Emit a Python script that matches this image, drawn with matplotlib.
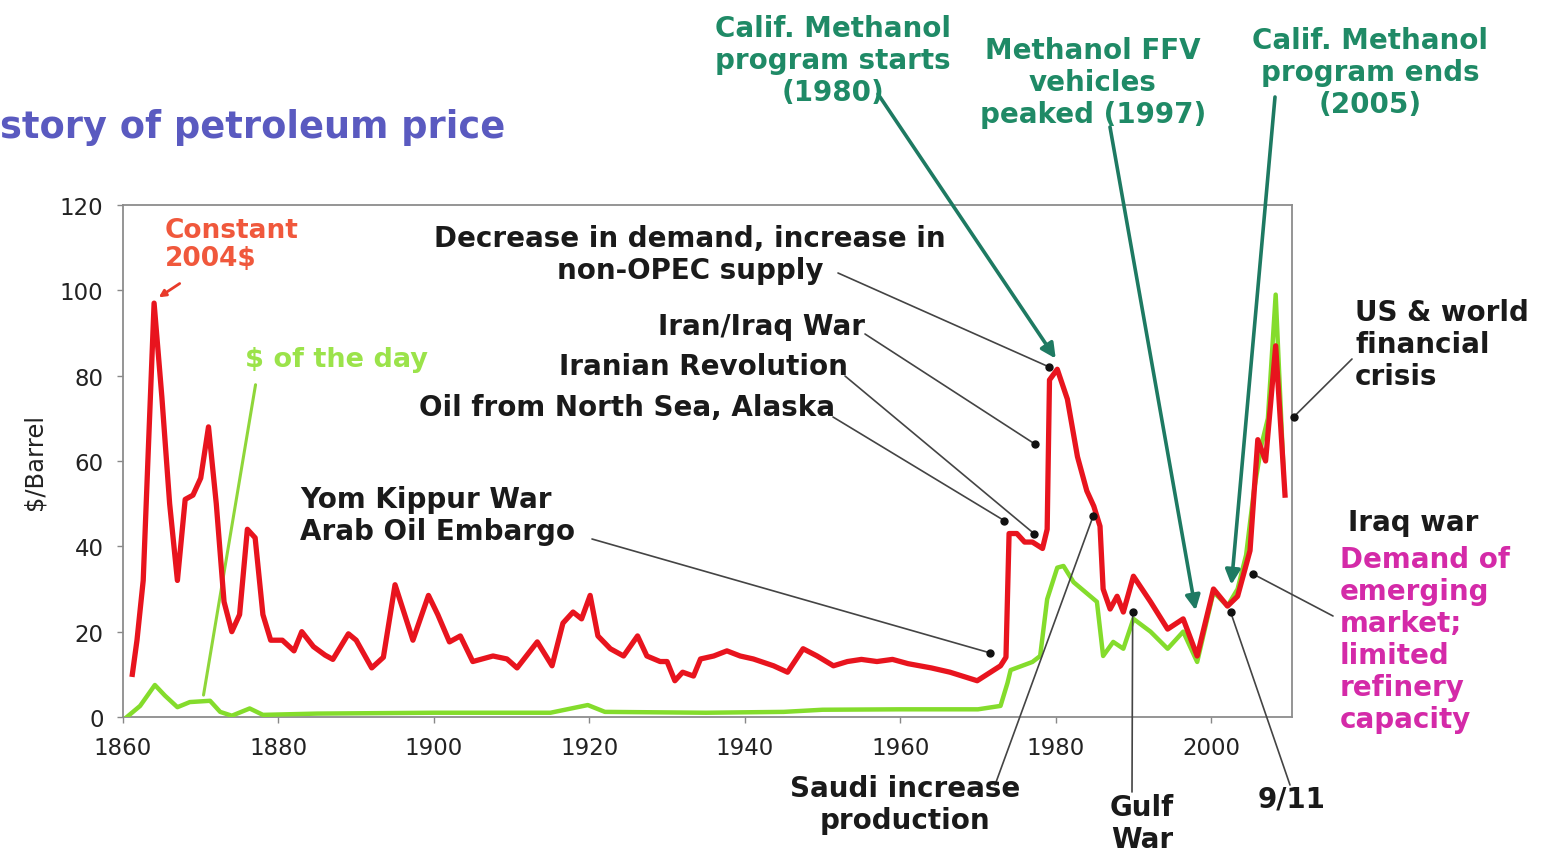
"""
History of petroleum price - annotated oil price chart
"""

import numpy as np
import matplotlib.pyplot as plt
from matplotlib import rcParams

rcParams['font.family'] = ['DejaVu Sans']

W, H = 1542, 854

# Constant 2004$ series (red)
red_years = [1861.2, 1861.8, 1862.6, 1863.2, 1864.0, 1865.0, 1866.0, 1867.0, 1868.0, 1869.0,
             1870.0, 1871.0, 1872.0, 1873.0, 1874.0, 1875.0, 1876.0, 1877.0, 1878.0, 1879.0,
             1880.5, 1882.0, 1883.0, 1884.5, 1886.0, 1887.0, 1889.0, 1890.0, 1892.0, 1893.5,
             1895.0, 1897.3, 1899.3, 1900.5, 1902.0, 1903.4, 1905.0, 1907.6, 1909.4, 1910.7,
             1913.3, 1915.2, 1916.6, 1917.9, 1919.0, 1920.1, 1921.1, 1922.7, 1924.4, 1926.2,
             1927.4, 1929.1, 1930.0, 1931.0, 1932.0, 1933.4, 1934.3, 1936.0, 1937.7, 1939.4,
             1941.1, 1943.7, 1945.5, 1947.5, 1949.3, 1951.4, 1953.2, 1955.0, 1957.0, 1959.0,
             1961.0, 1964.0, 1966.4, 1969.9, 1972.9, 1973.6, 1974.0, 1975.0, 1976.0, 1977.0,
             1978.3, 1978.9, 1979.2, 1980.2, 1981.5, 1982.8, 1984.0, 1984.9, 1985.7, 1986.1,
             1987.0, 1987.9, 1988.7, 1990.0, 1992.2, 1994.4, 1996.4, 1998.2, 2000.3, 2002.1,
             2003.4, 2005.0, 2006.0, 2007.0, 2008.3, 2009.5]
red_vals = [10, 18, 32, 60, 97, 75, 50, 32, 51, 52,
            56, 68, 50, 27, 20, 24, 44, 42, 24, 18,
            18, 15.5, 20, 16.5, 14.5, 13.5, 19.5, 18, 11.5, 14,
            31, 18, 28.5, 24, 17.6, 19, 13, 14.3, 13.6, 11.5,
            17.6, 12, 22, 24.6, 23, 28.5, 19, 16, 14.3, 19,
            14.3, 13, 13, 8.5, 10.5, 9.6, 13.6, 14.3, 15.5, 14.3,
            13.6, 12, 10.5, 16, 14.3, 12, 13, 13.5, 13, 13.5,
            12.5, 11.5, 10.5, 8.5, 12, 14, 43, 43, 41, 41,
            39.5, 44, 79, 81.5, 74.5, 61, 53, 49.4, 44.7, 30,
            25.3, 28.3, 24.6, 33, 27, 20.6, 23, 14.3, 30, 26,
            28.3, 39, 65, 60, 87, 52]

# $ of the day series (green)
green_years = [1860.5, 1862.2, 1864.1, 1865.4, 1867.0, 1868.6, 1871.2, 1872.5, 1874.0, 1876.3,
               1878.0, 1885.0, 1900.0, 1915.0, 1919.8, 1922.0, 1935.0, 1945.0, 1950.0, 1960.0,
               1970.0, 1972.9, 1973.8, 1974.2, 1977.0, 1978.0, 1978.9, 1980.2, 1981.0, 1982.3,
               1985.3, 1986.1, 1987.4, 1988.7, 1990.0, 1992.2, 1994.4, 1996.4, 1998.2, 2000.3,
               2002.1, 2003.4, 2004.5, 2005.5, 2006.5, 2007.3, 2008.3, 2009.3]
green_vals = [0, 2.6, 7.5, 5, 2.3, 3.5, 3.8, 1.2, 0.3, 2,
              0.5, 0.8, 1, 1, 2.8, 1.2, 1, 1.2, 1.7, 1.8,
              1.8, 2.6, 8, 11, 12.9, 14.3, 27.6, 35, 35.4, 31.6,
              27, 14.3, 17.6, 16, 23, 20, 16, 20, 12.9, 29.3,
              26, 30, 38, 53, 64, 70, 99, 58]

x_ticks = [1860, 1880, 1900, 1920, 1940, 1960, 1980, 2000]
y_ticks = [0, 20, 40, 60, 80, 100, 120]

# event annotations: (text, line start px, target year, target value)
events = [
    ("Decrease in demand, increase in\nnon-OPEC supply", (838, 274), 1979.2, 82.0),
    ("Iran/Iraq War", (865, 335), 1977.3, 64.0),
    ("Iranian Revolution", (845, 377), 1977.2, 43.0),
    ("Oil from North Sea, Alaska", (833, 418), 1973.4, 46.0),
    ("Yom Kippur War\nArab Oil Embargo", (592, 540), 1971.6, 15.0),
    ("Saudi increase\nproduction", (995, 786), 1984.8, 47.0),
    ("Gulf\nWar", (1132, 793), 1989.9, 24.6),
    ("9/11", (1290, 786), 2002.5, 24.6),
    ("US & world\nfinancial\ncrisis", (1352, 360), 2010.6, 70.3),
    ("Iraq war", (1333, 617), 2005.4, 33.5),
]

# methanol program arrows: start px, target (year, value)
methanol = [
    ((878, 95), 1980.0, 84.0),
    ((1110, 128), 1998.0, 25.0),
    ((1275, 98), 2002.6, 31.0),
]


def fx(x):
    return x / W


def fy(y):
    return 1 - y / H


fig = plt.figure(figsize=(W / 100, H / 100), dpi=100)
ax = fig.add_axes([fx(123), fy(718), (1292 - 123) / W, (718 - 206) / H])

ax.plot(green_years, green_vals, color='#84dc2c', lw=3.2, solid_joinstyle='round', zorder=3)
ax.plot(red_years, red_vals, color='#e8141e', lw=3.8, solid_joinstyle='round', zorder=4)

ax.set_xlim(1860, 2010.4)
ax.set_ylim(0, 120)
ax.set_xticks(x_ticks)
ax.set_yticks(y_ticks)
ax.tick_params(labelsize=16.5, colors='#222222', length=4, width=1, pad=10)
ax.tick_params(axis='both', color='#888888')
for s in ax.spines.values():
    s.set_color('#8c8c8c')
    s.set_linewidth(1.3)
ax.set_ylabel("$/Barrel", fontsize=17.5, color='#222222', labelpad=10)

# title fragment
fig.text(fx(0), fy(127), "story of petroleum price", fontsize=26.5, fontweight='bold',
         color='#5a5ac0', ha='left', va='center')

# series labels
fig.text(fx(165), fy(245), "Constant\n2004$", fontsize=19, fontweight='bold',
         color='#f0583c', ha='left', va='center', linespacing=1.15)
ax.annotate("", xy=(1864.3, 98), xycoords='data', xytext=(fx(182), fy(283)),
            textcoords='figure fraction',
            arrowprops=dict(arrowstyle='-|>', color='#e83a2a', lw=2, mutation_scale=10))
fig.text(fx(245), fy(360), "$ of the day", fontsize=19.5, fontweight='bold',
         color='#9be34a', ha='left', va='center')
ax.annotate("", xy=(1870.3, 4.5), xycoords='data', xytext=(fx(256), fy(383)),
            textcoords='figure fraction',
            arrowprops=dict(arrowstyle='-', color='#8fd63a', lw=2.2))

# event labels: x, y (px), alignment
label_pos = {
    "Decrease in demand, increase in\nnon-OPEC supply": (690, 255, 'center'),
    "Iran/Iraq War": (865, 327, 'right'),
    "Iranian Revolution": (848, 367, 'right'),
    "Oil from North Sea, Alaska": (835, 408, 'right'),
    "Yom Kippur War\nArab Oil Embargo": (300, 516, 'left'),
    "Saudi increase\nproduction": (905, 805, 'center'),
    "Gulf\nWar": (1142, 824, 'center'),
    "9/11": (1292, 800, 'center'),
    "US & world\nfinancial\ncrisis": (1355, 345, 'left'),
    "Iraq war": (1348, 523, 'left'),
}
for txt, (sx, sy), yr, val in events:
    lx, ly, ha = label_pos[txt]
    fig.text(fx(lx), fy(ly), txt, fontsize=20, fontweight='bold', color='#1a1a1a',
             ha=ha, va='center', linespacing=1.18)
    ax.annotate("", xy=(yr, val), xycoords='data', xytext=(fx(sx), fy(sy)),
                textcoords='figure fraction', annotation_clip=False,
                arrowprops=dict(arrowstyle='-', color='#444444', lw=1.2,
                                shrinkA=0, shrinkB=0))
    ax.plot(yr, val, 'o', color='#111111', ms=5, zorder=6, clip_on=False)

fig.text(fx(1340), fy(640), "Demand of\nemerging\nmarket;\nlimited\nrefinery\ncapacity",
         fontsize=20, fontweight='bold', color='#d42aa8', ha='left', va='center',
         linespacing=1.18)

# methanol program labels
meth_labels = [
    ("Calif. Methanol\nprogram starts\n(1980)", 833, 61),
    ("Methanol FFV\nvehicles\npeaked (1997)", 1093, 83),
    ("Calif. Methanol\nprogram ends\n(2005)", 1370, 73),
]
for txt, lx, ly in meth_labels:
    fig.text(fx(lx), fy(ly), txt, fontsize=20, fontweight='bold', color='#1f8a66',
             ha='center', va='center', linespacing=1.18)
for (sx, sy), yr, val in methanol:
    ax.annotate("", xy=(yr, val), xycoords='data', xytext=(fx(sx), fy(sy)),
                textcoords='figure fraction', annotation_clip=False,
                arrowprops=dict(arrowstyle='-|>', color='#1e7a62', lw=2.6,
                                mutation_scale=22, shrinkA=0, shrinkB=0))

fig.savefig("out.png", dpi=100)
